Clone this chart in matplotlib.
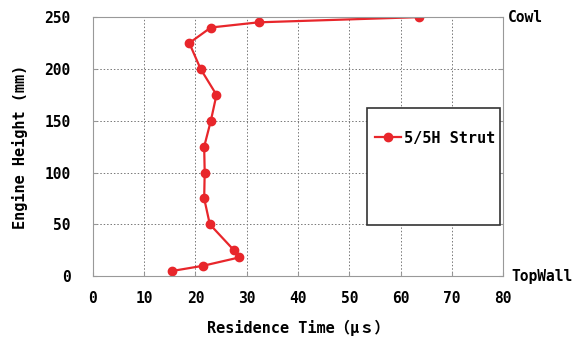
import matplotlib.pyplot as plt
from matplotlib.patches import Rectangle

plt.rcParams['font.family'] = ['DejaVu Sans Mono', 'Noto Sans CJK JP']

# Residence time vs. engine height
residence_time = [15.5, 21.5, 28.5, 27.5, 22.8, 21.7, 21.8, 21.7, 23.0, 24.1, 21.0, 18.8, 23.0, 32.3, 63.5]
engine_height = [5, 10, 18, 25, 50, 75, 100, 125, 150, 175, 200, 225, 240, 245, 250]
series_label = '5/5H Strut'
x_ticks = [0, 10, 20, 30, 40, 50, 60, 70, 80]
y_ticks = [0, 50, 100, 150, 200, 250]

fig = plt.figure(figsize=(5.77, 3.43), dpi=100)
ax = fig.add_axes([0.161, 0.195, 0.711, 0.755])

line, = ax.plot(residence_time, engine_height, color='#e8262b', lw=1.6,
                marker='o', markersize=6, label=series_label)

ax.set_xlim(0, 80)
ax.set_ylim(0, 250)
ax.set_xticks(x_ticks)
ax.set_yticks(y_ticks)
ax.grid(True, color='#777777', linestyle=(0, (1.5, 2)), linewidth=0.7)
for s in ax.spines.values():
    s.set_color('#999999')
ax.tick_params(direction='in', length=3, color='#999999', labelsize=10.5, right=True)
ax.tick_params(axis='x', pad=11)
ax.tick_params(axis='y', pad=16)
for lbl in ax.get_xticklabels() + ax.get_yticklabels():
    lbl.set_fontweight('bold')

ax.set_xlabel('Residence Time（μｓ）', fontsize=11, fontweight='bold', labelpad=10)
ax.set_ylabel('Engine Height (mm)', fontsize=11, fontweight='bold', labelpad=12)

ax.text(1.012, 1.0, 'Cowl', transform=ax.transAxes, fontsize=10.5, fontweight='bold',
        va='center', ha='left')
ax.text(1.02, 0.0, 'TopWall', transform=ax.transAxes, fontsize=10.5, fontweight='bold',
        va='center', ha='left')

# legend box
ax.add_patch(Rectangle((0.668, 0.197), 0.325, 0.452, transform=ax.transAxes,
                       fill=True, facecolor='white', edgecolor='#333333', lw=1.2, zorder=5))
leg = ax.legend(loc='center left', bbox_to_anchor=(0.655, 0.533), frameon=False,
                handlelength=1.7, handletextpad=0.2, prop={'size': 11, 'weight': 'bold'})
leg.set_zorder(6)

fig.savefig('out.png', dpi=100)
